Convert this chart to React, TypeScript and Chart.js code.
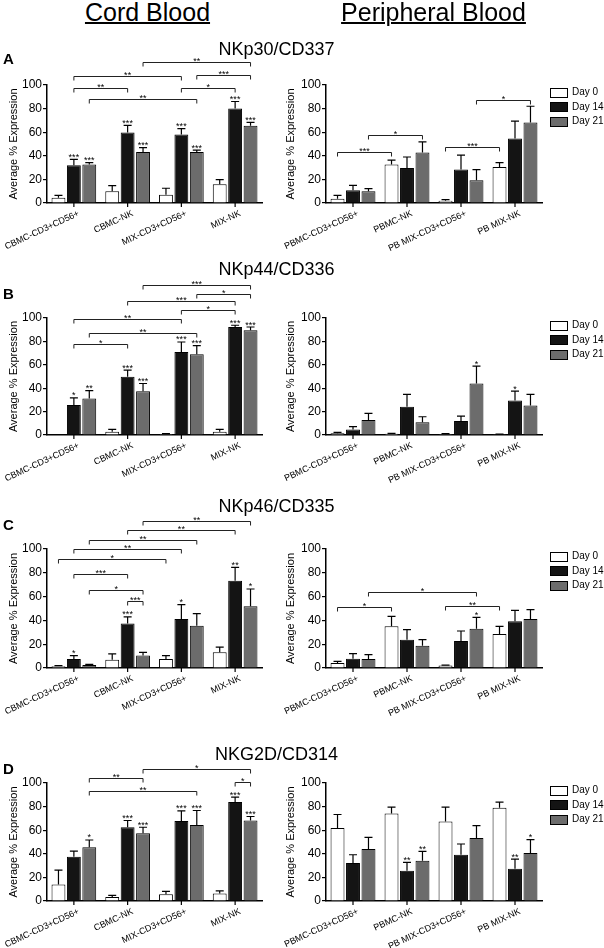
import React, { useEffect, useRef } from 'react';
import { Chart, registerables } from 'chart.js';

Chart.register(...registerables);

const FONT = '"Liberation Sans", Arial, Helvetica, sans-serif';

// ---------- text / categories ----------
const cbCategories = ['CBMC-CD3+CD56+', 'CBMC-NK', 'MIX-CD3+CD56+', 'MIX-NK'];
const pbCategories = ['PBMC-CD3+CD56+', 'PBMC-NK', 'PB MIX-CD3+CD56+', 'PB MIX-NK'];
const seriesNames = ['Day 0', 'Day 14', 'Day 21'];
const yTickValues = [0, 20, 40, 60, 80, 100];
const markerTitles = ['NKp30/CD337', 'NKp44/CD336', 'NKp46/CD335', 'NKG2D/CD314'];
const panelLetters = ['A', 'B', 'C', 'D'];
const columnTitles = ['Cord Blood', 'Peripheral Blood'];
const yAxisTitle = 'Average % Expression';

// ---------- NKp30 / CD337 ----------
const nkp30CbDay0 = [4.5, 10, 7, 15.9];
const nkp30CbDay14 = [32, 59.8, 58, 80];
const nkp30CbDay21 = [32.6, 43.3, 43.3, 65.4];
const nkp30CbErr0 = [2, 4.7, 5.5, 3.9];
const nkp30CbErr14 = [5, 5.9, 5, 6];
const nkp30CbErr21 = [1.7, 3.7, 1.5, 2.9];
const nkp30CbStars = [['', '', '', ''], ['***', '***', '***', '***'], ['***', '***', '***', '***']];
// [group1, day1, group2, day2, level, label]
const nkp30CbBrackets = [[1, 2, 3, 2, 119.8, '**'], [0, 1, 2, 1, 107.6, '**'], [2, 2, 3, 2, 108.5, '***'], [0, 1, 1, 1, 97.7, '**'], [2, 1, 3, 1, 97.7, '*'], [0, 2, 2, 2, 87.8, '**']];

const nkp30PbDay0 = [3.7, 32.6, 2, 30.6];
const nkp30PbDay14 = [10.8, 29.7, 28.3, 54.7];
const nkp30PbDay21 = [9.9, 42.8, 19.3, 68.3];
const nkp30PbErr0 = [2.8, 3.7, 0.8, 3.7];
const nkp30PbErr14 = [4.2, 9.3, 12.2, 14.7];
const nkp30PbErr21 = [2.3, 9, 9, 13.7];
const nkp30PbStars = [['', '', '', ''], ['', '', '', ''], ['', '', '', '']];
const nkp30PbBrackets = [[0, 0, 1, 0, 43.3, '***'], [0, 2, 1, 2, 57.5, '*'], [2, 0, 3, 0, 47.6, '***'], [2, 2, 3, 2, 87.3, '*']];

// ---------- NKp44 / CD336 ----------
const nkp44CbDay0 = [0, 2.8, 0.9, 2.8];
const nkp44CbDay14 = [25.6, 49.7, 71, 92.3];
const nkp44CbDay21 = [31.3, 37.5, 69, 89.5];
const nkp44CbErr0 = [0, 2, 0.2, 2];
const nkp44CbErr14 = [6.2, 5.7, 8.5, 1.5];
const nkp44CbErr21 = [6.7, 6.5, 7.4, 2.8];
const nkp44CbStars = [['', '', '', ''], ['*', '***', '***', '***'], ['**', '***', '***', '***']];
const nkp44CbBrackets = [[1, 2, 3, 2, 128.4, '***'], [2, 2, 3, 2, 120.2, '*'], [1, 1, 3, 1, 114.2, '***'], [2, 1, 3, 1, 107, '*'], [0, 1, 2, 1, 98.9, '**'], [0, 2, 2, 2, 87.5, '**'], [0, 1, 1, 1, 78.1, '*']];

const nkp44PbDay0 = [1.4, 1.1, 0.9, 0.6];
const nkp44PbDay14 = [4.8, 24.1, 11.9, 29.5];
const nkp44PbDay21 = [12.8, 10.8, 44, 25.3];
const nkp44PbErr0 = [0.9, 0.3, 0.2, 0.2];
const nkp44PbErr14 = [2.3, 10.6, 4.3, 8];
const nkp44PbErr21 = [5.7, 4.8, 14.8, 9.4];
const nkp44PbStars = [['', '', '', ''], ['', '', '', '*'], ['', '', '*', '']];
const nkp44PbBrackets: any[] = [];

// ---------- NKp46 / CD335 ----------
const nkp46CbDay0 = [1.4, 7, 7.6, 13.2];
const nkp46CbDay14 = [7.6, 37.3, 41.2, 73.4];
const nkp46CbDay21 = [2.5, 10.4, 35.6, 51.8];
const nkp46CbErr0 = [0.6, 4.8, 2.8, 4.4];
const nkp46CbErr14 = [2.8, 5.6, 12, 11.2];
const nkp46CbErr21 = [0.6, 2.8, 10.1, 14.6];
const nkp46CbStars = [['', '', '', ''], ['*', '***', '*', '**'], ['', '', '', '*']];
const nkp46CbBrackets = [[1, 2, 3, 2, 123.2, '**'], [1, 1, 3, 1, 115.7, '**'], [0, 2, 2, 2, 107.8, '**'], [0, 1, 2, 1, 100, '**'], [0, 0, 2, 0, 91.9, '*'], [0, 1, 1, 1, 79, '***'], [0, 2, 1, 2, 65.8, '*'], [1, 1, 1, 2, 56, '***']];

const nkp46PbDay0 = [4.2, 35, 2, 28.6];
const nkp46PbDay14 = [7.8, 23.8, 22.7, 39.2];
const nkp46PbDay21 = [7.6, 18.8, 33, 41.2];
const nkp46PbErr0 = [1.4, 8.4, 0.5, 6.4];
const nkp46PbErr14 = [4.2, 8.4, 8.4, 9.3];
const nkp46PbErr21 = [3.6, 5, 9.6, 7.8];
const nkp46PbStars = [['', '', '', ''], ['', '', '', ''], ['', '', '*', '']];
const nkp46PbBrackets = [[0, 0, 1, 0, 51.3, '*'], [0, 2, 2, 2, 63.6, '*'], [2, 0, 3, 0, 51.8, '**']];

// ---------- NKG2D / CD314 ----------
const nkg2dCbDay0 = [13.9, 3.4, 5.7, 6.3];
const nkg2dCbDay14 = [37.5, 62.5, 67.9, 83.8];
const nkg2dCbDay21 = [45.5, 57.4, 64.5, 68.2];
const nkg2dCbErr0 = [12.2, 1.4, 2.5, 2.2];
const nkg2dCbErr14 = [4.8, 5.7, 8.5, 4.2];
const nkg2dCbErr21 = [6.2, 5.1, 12.2, 3.4];
const nkg2dCbStars = [['', '', '', ''], ['', '***', '***', '***'], ['*', '***', '***', '***']];
const nkg2dCbBrackets = [[1, 2, 3, 2, 112.2, '*'], [0, 2, 1, 2, 104.3, '**'], [3, 1, 3, 2, 100.6, '*'], [0, 2, 2, 2, 93.5, '**']];

const nkg2dPbDay0 = [61.9, 74.1, 67.3, 79];
const nkg2dPbDay14 = [32.1, 25.6, 39.2, 27.3];
const nkg2dPbDay21 = [44, 34.1, 53.4, 40.6];
const nkg2dPbErr0 = [11.4, 5.4, 12.2, 4.8];
const nkg2dPbErr14 = [7.1, 7.1, 9.1, 8.2];
const nkg2dPbErr21 = [10, 7.9, 10.5, 11.4];
const nkg2dPbStars = [['', '', '', ''], ['', '**', '', '**'], ['', '**', '', '*']];
const nkg2dPbBrackets: any[] = [];

const panels = [
  { row: 0, col: 0, cats: cbCategories, values: [nkp30CbDay0, nkp30CbDay14, nkp30CbDay21], errs: [nkp30CbErr0, nkp30CbErr14, nkp30CbErr21], stars: nkp30CbStars, brackets: nkp30CbBrackets },
  { row: 0, col: 1, cats: pbCategories, values: [nkp30PbDay0, nkp30PbDay14, nkp30PbDay21], errs: [nkp30PbErr0, nkp30PbErr14, nkp30PbErr21], stars: nkp30PbStars, brackets: nkp30PbBrackets },
  { row: 1, col: 0, cats: cbCategories, values: [nkp44CbDay0, nkp44CbDay14, nkp44CbDay21], errs: [nkp44CbErr0, nkp44CbErr14, nkp44CbErr21], stars: nkp44CbStars, brackets: nkp44CbBrackets },
  { row: 1, col: 1, cats: pbCategories, values: [nkp44PbDay0, nkp44PbDay14, nkp44PbDay21], errs: [nkp44PbErr0, nkp44PbErr14, nkp44PbErr21], stars: nkp44PbStars, brackets: nkp44PbBrackets },
  { row: 2, col: 0, cats: cbCategories, values: [nkp46CbDay0, nkp46CbDay14, nkp46CbDay21], errs: [nkp46CbErr0, nkp46CbErr14, nkp46CbErr21], stars: nkp46CbStars, brackets: nkp46CbBrackets },
  { row: 2, col: 1, cats: pbCategories, values: [nkp46PbDay0, nkp46PbDay14, nkp46PbDay21], errs: [nkp46PbErr0, nkp46PbErr14, nkp46PbErr21], stars: nkp46PbStars, brackets: nkp46PbBrackets },
  { row: 3, col: 0, cats: cbCategories, values: [nkg2dCbDay0, nkg2dCbDay14, nkg2dCbDay21], errs: [nkg2dCbErr0, nkg2dCbErr14, nkg2dCbErr21], stars: nkg2dCbStars, brackets: nkg2dCbBrackets },
  { row: 3, col: 1, cats: pbCategories, values: [nkg2dPbDay0, nkg2dPbDay14, nkg2dPbDay21], errs: [nkg2dPbErr0, nkg2dPbErr14, nkg2dPbErr21], stars: nkg2dPbStars, brackets: nkg2dPbBrackets },
];

// ---------- layout / style ----------
const ROW_Y100 = [85, 318, 549, 783];
const ROW_Y0 = [203, 435, 668, 901];
const PAD_TOP = 48;
const X_AXIS_H = 52;
// left: canvas left edge; plotLeft/plotRight: absolute x of plot area; titleX: absolute centre of y title
const COLS = [
  { left: 0, width: 282, plotLeft: 47, plotRight: 262, titleX: 14 },
  { left: 268, width: 336, plotLeft: 326, plotRight: 542, titleX: 291 },
];
const LEGEND_BOX_X = 550;
const LEGEND_TEXT_X = 572;
const FILLS = ['#ffffff', '#141414', '#6c6c6c'];
const TITLE_TOPS = [39.8, 259.8, 496.8, 744.8];
const LETTER_TOPS = [50.6, 285.6, 517.3, 760.6];

function makeAnnot(p: any) {
  const c = COLS[p.col];
  return {
    id: 'annot' + p.row + p.col,
    afterDraw(chart: any) {
      const { ctx, chartArea } = chart;
      const ys = chart.scales.y;
      const xs = chart.scales.x;
      ctx.save();
      ctx.strokeStyle = '#000';
      ctx.fillStyle = '#000';
      // x tick marks & rotated labels
      ctx.lineWidth = 1.2;
      p.cats.forEach((lab: string, g: number) => {
        const x = xs.getPixelForValue(g);
        ctx.beginPath();
        ctx.moveTo(x, chartArea.bottom);
        ctx.lineTo(x, chartArea.bottom + 4);
        ctx.stroke();
        ctx.save();
        ctx.translate(x + 3, chartArea.bottom + 6);
        ctx.rotate((-25 * Math.PI) / 180);
        ctx.font = `9px ${FONT}`;
        ctx.textAlign = 'right';
        ctx.textBaseline = 'top';
        ctx.fillText(lab, 0, 0);
        ctx.restore();
      });
      // error bars + asterisks
      ctx.font = `9px ${FONT}`;
      ctx.textAlign = 'center';
      ctx.textBaseline = 'alphabetic';
      for (let s = 0; s < 3; s++) {
        const meta = chart.getDatasetMeta(s);
        meta.data.forEach((bar: any, g: number) => {
          const v = p.values[s][g];
          const e = p.errs[s][g];
          const x = bar.x;
          const top = ys.getPixelForValue(v);
          const et = ys.getPixelForValue(v + e);
          if (e > 0) {
            ctx.lineWidth = 1.2;
            ctx.beginPath();
            ctx.moveTo(x, top);
            ctx.lineTo(x, et);
            ctx.moveTo(x - 4, et);
            ctx.lineTo(x + 4, et);
            ctx.stroke();
          }
          const st = p.stars[s][g];
          if (st) ctx.fillText(st, x, et + 0.5);
        });
      }
      // significance brackets
      ctx.lineWidth = 1;
      ctx.strokeStyle = '#222';
      p.brackets.forEach((b: any[]) => {
        const [g1, s1, g2, s2, lvl, lab] = b;
        const x1 = chart.getDatasetMeta(s1).data[g1].x;
        const x2 = chart.getDatasetMeta(s2).data[g2].x;
        const yy = Math.round(ys.getPixelForValue(lvl)) + 0.5;
        ctx.beginPath();
        ctx.moveTo(x1, yy + 4);
        ctx.lineTo(x1, yy);
        ctx.lineTo(x2, yy);
        ctx.lineTo(x2, yy + 4);
        ctx.stroke();
        ctx.fillText(lab, (x1 + x2) / 2, yy + 1);
      });
      // legend
      if (p.col === 1) {
        ctx.font = `10px ${FONT}`;
        ctx.textAlign = 'left';
        ctx.textBaseline = 'middle';
        ctx.lineWidth = 1;
        ctx.strokeStyle = '#000';
        const bx = LEGEND_BOX_X - c.left + 0.5;
        seriesNames.forEach((name, i) => {
          const cy = chartArea.top + 7.5 + i * 14.3;
          ctx.fillStyle = FILLS[i];
          ctx.fillRect(bx, Math.round(cy - 4.5) + 0.5, 17, 9);
          ctx.strokeRect(bx, Math.round(cy - 4.5) + 0.5, 17, 9);
          ctx.fillStyle = '#000';
          ctx.fillText(name, LEGEND_TEXT_X - c.left, cy);
        });
      }
      ctx.restore();
    },
  };
}

function makeConfig(p: any): any {
  const c = COLS[p.col];
  const yWidth = c.plotLeft - c.left;
  const padRight = c.left + c.width - c.plotRight;
  const titlePad = c.titleX - c.left - 6.6;
  return {
    type: 'bar',
    data: {
      labels: p.cats,
      datasets: [0, 1, 2].map((s) => ({
        label: seriesNames[s],
        data: p.values[s],
        backgroundColor: FILLS[s],
        borderColor: '#000',
        borderWidth: 1,
        categoryPercentage: 0.86,
        barPercentage: 0.9,
      })),
    },
    options: {
      animation: false,
      responsive: false,
      maintainAspectRatio: false,
      layout: { padding: { top: PAD_TOP, left: 0, right: padRight, bottom: 0 } },
      plugins: { legend: { display: false }, tooltip: { enabled: false } },
      scales: {
        x: {
          grid: { display: false },
          border: { display: true, color: '#000', width: 1.5 },
          ticks: { display: false },
          afterFit: (s: any) => { s.height = X_AXIS_H; },
        },
        y: {
          min: 0,
          max: 100,
          afterBuildTicks: (s: any) => { s.ticks = yTickValues.map((v) => ({ value: v })); },
          ticks: { color: '#000', font: { family: FONT, size: 12 }, padding: 1 },
          grid: { drawOnChartArea: false, drawTicks: true, tickLength: 4, color: '#000', lineWidth: 1.2 },
          border: { color: '#000', width: 1.5 },
          title: { display: true, text: yAxisTitle, color: '#000', font: { family: FONT, size: 11 }, padding: { top: titlePad, bottom: 0 } },
          afterFit: (s: any) => { s.width = yWidth; },
        },
      },
    },
    plugins: [makeAnnot(p)],
  };
}

export default function App() {
  const refs = useRef<(HTMLCanvasElement | null)[]>([]);
  useEffect(() => {
    document.body.style.margin = '0';
    const charts = panels.map((p, i) => new Chart(refs.current[i] as HTMLCanvasElement, makeConfig(p)));
    return () => charts.forEach((ch) => ch.destroy());
  }, []);

  return (
    <div style={{ position: 'relative', width: 604, height: 948, background: '#fff', overflow: 'hidden', fontFamily: FONT, color: '#000' }}>
      <style>{'body{margin:0}'}</style>
      {panels.map((p, i) => {
        const c = COLS[p.col];
        const top = ROW_Y100[p.row] - PAD_TOP;
        const h = ROW_Y0[p.row] - ROW_Y100[p.row] + PAD_TOP + X_AXIS_H;
        return (
          <canvas
            key={i}
            ref={(el) => { refs.current[i] = el; }}
            width={c.width}
            height={h}
            style={{ position: 'absolute', left: c.left, top, width: c.width, height: h }}
          />
        );
      })}
      {columnTitles.map((t, i) => (
        <div key={t} style={{ position: 'absolute', top: -0.5, left: i === 0 ? 147.5 : 433.5, transform: 'translateX(-50%)', fontSize: 25, lineHeight: '25px', textDecoration: 'underline', textDecorationThickness: 2, whiteSpace: 'nowrap' }}>{t}</div>
      ))}
      {markerTitles.map((t, i) => (
        <div key={t} style={{ position: 'absolute', top: TITLE_TOPS[i], left: 276.5, transform: 'translateX(-50%)', fontSize: 18, lineHeight: '18px', whiteSpace: 'nowrap' }}>{t}</div>
      ))}
      {panelLetters.map((t, i) => (
        <div key={t} style={{ position: 'absolute', top: LETTER_TOPS[i], left: 3, fontSize: 15, lineHeight: '15px', fontWeight: 'bold' }}>{t}</div>
      ))}
    </div>
  );
}
